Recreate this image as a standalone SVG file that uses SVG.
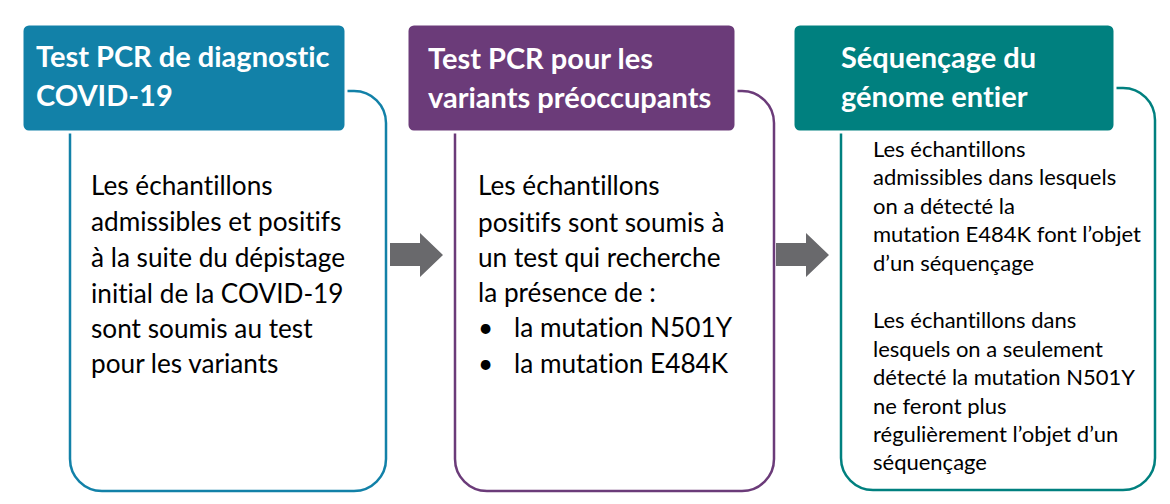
<svg xmlns="http://www.w3.org/2000/svg" width="1170" height="504" viewBox="0 0 1170 504">
<style>
text{font-variant-ligatures:none}
.hdr{font-family:"Lato","Open Sans","Liberation Sans",sans-serif;font-weight:bold;font-size:29px;fill:#ffffff}
.body{font-family:"Lato","Open Sans","Liberation Sans",sans-serif;font-size:26.2px;fill:#000000}
.small{font-family:"Lato","Open Sans","Liberation Sans",sans-serif;font-size:22px;fill:#000000}
.frame{fill:#ffffff;stroke-width:2.5}
.head{stroke:#ffffff;stroke-width:3}
.arrow{fill:#69696c}
</style>
<rect width="1170" height="504" fill="#ffffff"/>
<g id="connectors">
<polygon class="arrow" points="390,243 420,243 420,233 443,255 420,277 420,266 390,266"/>
<polygon class="arrow" points="776,243 806,243 806,233 829,255 806,277 806,266 776,266"/>
</g>
<g id="node1">
<rect class="frame" x="70" y="91" width="316" height="400" rx="32" ry="32" stroke="#1281a8"/>
<rect class="head" x="22" y="24" width="324" height="108" rx="7" ry="7" fill="#1281a8"/>
<text class="hdr" x="36" y="67">Test PCR de diagnostic</text>
<text class="hdr" x="36" y="106">COVID-19</text>
<text class="body" x="91" y="195">Les échantillons</text>
<text class="body" x="91" y="231">admissibles et positifs</text>
<text class="body" x="91" y="267">à la suite du dépistage</text>
<text class="body" x="91" y="303">initial de la COVID-19</text>
<text class="body" x="91" y="338">sont soumis au test</text>
<text class="body" x="91" y="373">pour les variants</text>
</g>
<g id="node2">
<rect class="frame" x="455" y="91" width="319" height="400" rx="32" ry="32" stroke="#6b3b79"/>
<rect class="head" x="407" y="24" width="329" height="108" rx="7" ry="7" fill="#6b3b79"/>
<text class="hdr" x="428" y="69">Test PCR pour les</text>
<text class="hdr" x="428" y="108">variants préoccupants</text>
<text class="body" x="478" y="195">Les échantillons</text>
<text class="body" x="478" y="232">positifs sont soumis à</text>
<text class="body" x="478" y="267">un test qui recherche</text>
<text class="body" x="478" y="302">la présence de :</text>
<text class="body" x="478" y="337">•</text>
<text class="body" x="514" y="337">la mutation N501Y</text>
<text class="body" x="478" y="373">•</text>
<text class="body" x="514" y="373">la mutation E484K</text>
</g>
<g id="node3">
<rect class="frame" x="841" y="88" width="314" height="402" rx="32" ry="32" stroke="#00807f"/>
<rect class="head" x="793" y="24" width="322" height="108" rx="7" ry="7" fill="#00807f"/>
<text class="hdr" x="841" y="68">Séquençage du</text>
<text class="hdr" x="841" y="107">génome entier</text>
<text class="small" x="873" y="157">Les échantillons</text>
<text class="small" x="873" y="185">admissibles dans lesquels</text>
<text class="small" x="873" y="214">on a détecté la</text>
<text class="small" x="873" y="242">mutation E484K font l’objet</text>
<text class="small" x="873" y="271">d’un séquençage</text>
<text class="small" x="873" y="328">Les échantillons dans</text>
<text class="small" x="873" y="357">lesquels on a seulement</text>
<text class="small" x="873" y="385">détecté la mutation N501Y</text>
<text class="small" x="873" y="414">ne feront plus</text>
<text class="small" x="873" y="442">régulièrement l’objet d’un</text>
<text class="small" x="873" y="470">séquençage</text>
</g>
</svg>
